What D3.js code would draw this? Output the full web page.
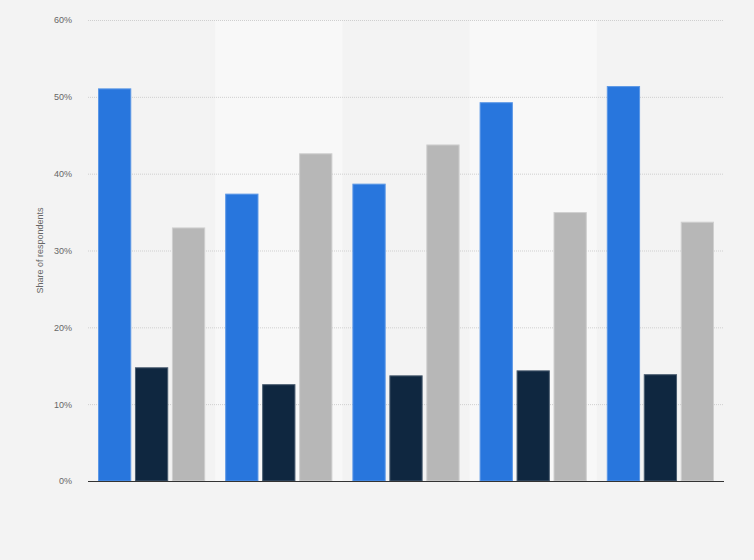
<!DOCTYPE html>
<html><head><meta charset="utf-8">
<script src="https://cdn.jsdelivr.net/npm/d3@7"></script>
<style>
html,body{margin:0;padding:0;background:#f3f3f3;}
svg{display:block;font-family:"Liberation Sans",Arial,sans-serif;}
</style></head>
<body>
<svg id="chart" width="754" height="560"></svg>
<script>
const categories = ["Group 1","Group 2","Group 3","Group 4","Group 5"];
const seriesNames = ["Series 1","Series 2","Series 3"];
const series1 = [51.1, 37.4, 38.7, 49.3, 51.4];
const series2 = [14.8, 12.6, 13.75, 14.4, 13.9];
const series3 = [33.0, 42.65, 43.8, 35.0, 33.75];
const yTicks = [0, 10, 20, 30, 40, 50, 60];
const yLabel = "Share of respondents";
const colors = ["#2876dd", "#0f2740", "#b7b7b7"];
const strokes = ["#5b97e6", "#4a5d70", "#cfcfcf"];

const svg = d3.select("#chart");
const m = {left: 88, right: 30, top: 20, bottom: 79};
const W = 754, H = 560;
const iw = W - m.left - m.right, ih = H - m.top - m.bottom;

svg.append("rect").attr("width", W).attr("height", H).attr("fill", "#f3f3f3");

const g = svg.append("g").attr("transform", `translate(${m.left},${m.top})`);

const x0 = d3.scaleBand().domain(categories).range([0, iw]).paddingInner(0).paddingOuter(0);
const x1 = d3.scaleBand().domain(seriesNames).range([10, x0.bandwidth() - 10]).paddingInner(0.1).paddingOuter(0);
const y = d3.scaleLinear().domain([0, 60]).range([ih, 0]);

// alternating bands
g.selectAll("rect.band").data(categories.filter((d, i) => i % 2 === 1)).enter()
  .append("rect").attr("class", "band")
  .attr("x", d => x0(d)).attr("y", 0)
  .attr("width", x0.bandwidth()).attr("height", ih)
  .attr("fill", "#f8f8f8");

// gridlines
const yAxis = d3.axisLeft(y).tickValues(yTicks).tickFormat(d => d + "%").tickSize(-iw).tickPadding(16);
const ya = g.append("g").call(yAxis);
ya.select(".domain").remove();
ya.selectAll(".tick line").attr("stroke", "#cfcfcf").attr("stroke-dasharray", "1,1").attr("stroke-width", 1);
ya.selectAll(".tick text").attr("fill", "#666").attr("font-size", "9px")
  .attr("font-family", "Liberation Sans, Arial, sans-serif");
ya.selectAll(".tick").filter(d => d === 0).select("line").remove();

const data = categories.map((c, i) => ({cat: c, vals: [series1[i], series2[i], series3[i]]}));

const grp = g.selectAll("g.grp").data(data).enter().append("g")
  .attr("transform", d => `translate(${x0(d.cat)},0)`);
grp.selectAll("rect").data(d => d.vals.map((v, j) => ({name: seriesNames[j], v, j}))).enter()
  .append("rect")
  .attr("x", d => x1(d.name) + 0.5)
  .attr("y", d => y(d.v) + 0.5)
  .attr("width", x1.bandwidth() - 1)
  .attr("height", d => ih - y(d.v) - 0.5)
  .attr("fill", d => colors[d.j])
  .attr("stroke", d => strokes[d.j])
  .attr("stroke-width", 1);

// baseline
g.append("line").attr("x1", 0).attr("x2", iw).attr("y1", ih + 0.5).attr("y2", ih + 0.5)
  .attr("stroke", "#333").attr("stroke-width", 1.2);

// y label
svg.append("text")
  .attr("transform", `translate(43,${m.top + ih / 2}) rotate(-90)`)
  .attr("text-anchor", "middle")
  .attr("fill", "#666").attr("font-size", "9px")
  .text(yLabel);
</script>
</body></html>
